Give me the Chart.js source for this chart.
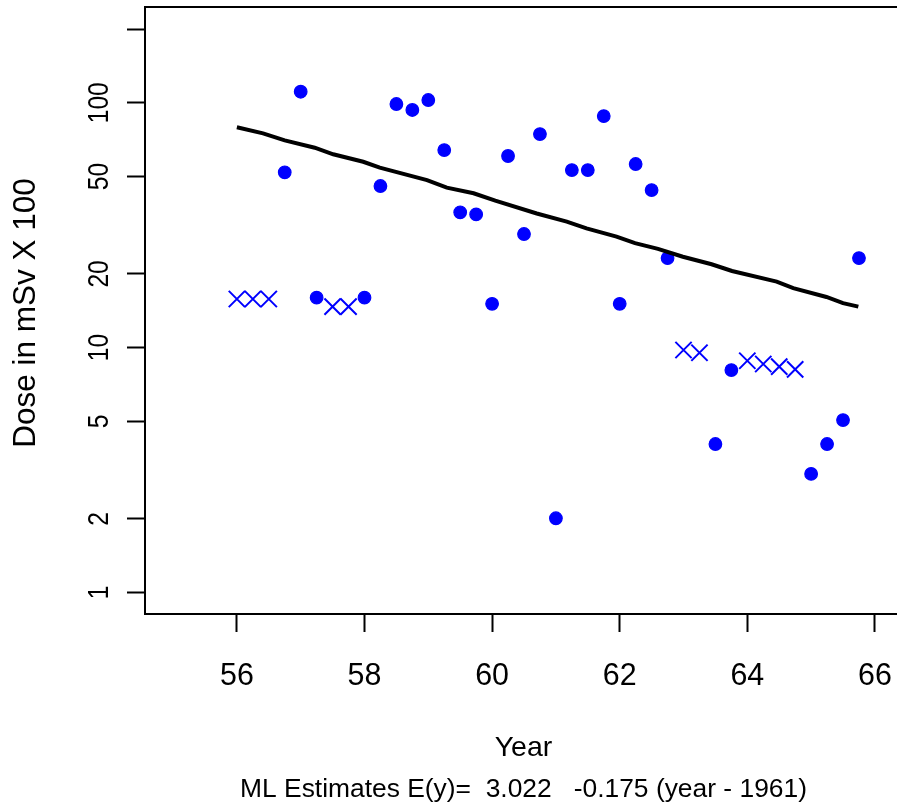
<!DOCTYPE html>
<html><head><meta charset="utf-8">
<script src="https://cdn.jsdelivr.net/npm/chart.js@4.4.0/dist/chart.umd.min.js"></script>
<style>html,body{margin:0;padding:0;background:#fff;overflow:hidden}canvas{display:block}</style>
</head><body>
<canvas id="c" width="897" height="805"></canvas>
<script>
// Observed (uncensored) doses
const dotYears = [56.75,57,57.25,58,58.25,58.5,58.75,59,59.25,59.5,59.75,60,60.25,60.5,60.75,61,61.25,61.5,61.75,62,62.25,62.5,62.75,63.5,63.75,65,65.25,65.5,65.75];
const dotDose  = [52.0,110.9,16.0,16.0,45.7,98.8,93.4,102.6,64.1,35.7,35.0,15.1,60.6,29.1,74.5,2.01,53.1,53.1,88.2,15.1,56.2,44.0,23.2,4.04,8.10,3.05,4.04,5.06,23.2];
// Censored values (crosses)
const censYears = [56,56.25,56.5,57.5,57.75,63,63.25,64,64.25,64.5,64.75];
const censDose  = [15.8,15.8,15.8,14.7,14.7,9.78,9.53,8.84,8.57,8.36,8.15];
// Fitted ML estimate line
const lineYears = [56.0,56.41,56.75,57.22,57.51,57.98,58.24,58.98,59.29,59.71,60.05,60.70,61.17,61.48,61.95,62.24,62.6,62.99,63.44,63.76,64.46,64.72,65.24,65.5,65.74];
const lineDose  = [79.4,75.0,70.2,65.5,61.6,57.4,54.3,48.3,45.0,42.7,39.8,35.3,32.7,30.7,28.4,26.7,25.3,23.5,21.9,20.55,18.6,17.5,16.1,15.2,14.7];
// Axes
const xTicks = [56,58,60,62,64,66];
const yTicks = [1,2,5,10,20,50,100,200];
const yTickLabels = ['1','2','5','10','20','50','100',''];
const xTitle = 'Year';
const yTitle = 'Dose in mSv X 100';
const subTitle = 'ML Estimates E(y)=  3.022   -0.175 (year - 1961)';

const FONT = '"Liberation Sans", Arial, Helvetica, sans-serif';

const textPlugin = {
  id: 'rtexts',
  afterDraw(chart) {
    const {ctx, chartArea, scales} = chart;
    const xs = scales.x, ys = scales.y;
    ctx.save();
    // top border of the box
    ctx.strokeStyle = '#000';
    ctx.lineWidth = 2;
    ctx.beginPath();
    ctx.moveTo(chartArea.left - 1, chartArea.top);
    ctx.lineTo(chartArea.right, chartArea.top);
    ctx.stroke();

    ctx.fillStyle = '#000';
    ctx.textBaseline = 'alphabetic';
    ctx.textAlign = 'center';
    // x tick labels
    ctx.font = '32px ' + FONT;
    xs.ticks.forEach((t, i) => {
      const px = xs.getPixelForValue(t.value);
      ctx.save();
      ctx.translate(px, chartArea.bottom + 71);
      ctx.scale(0.95, 1);
      ctx.fillText(String(xTicks[i]), 0, 0);
      ctx.restore();
    });
    // y tick labels (rotated)
    ctx.font = '30px ' + FONT;
    ys.ticks.forEach((t, i) => {
      const lbl = yTickLabels[i];
      if (!lbl) return;
      const py = ys.getPixelForValue(t.value);
      ctx.save();
      ctx.translate(chartArea.left - 37, py);
      ctx.rotate(-Math.PI / 2);
      ctx.scale(0.82, 1);
      ctx.fillText(lbl, 0, 0);
      ctx.restore();
    });
    // y title
    ctx.font = '31.5px ' + FONT;
    ctx.save();
    ctx.translate(35, (chartArea.top + chartArea.bottom) / 2 + 2.5);
    ctx.rotate(-Math.PI / 2);
    ctx.fillText(yTitle, 0, 0);
    ctx.restore();
    // x title
    ctx.font = '28.5px ' + FONT;
    ctx.fillText(xTitle, 523.5, 756);
    // subtitle
    ctx.font = '26.4px ' + FONT;
    ctx.fillText(subTitle, 523.5, 797);
    ctx.restore();
  }
};

new Chart(document.getElementById('c'), {
  type: 'scatter',
  data: {
    datasets: [
      {
        label: 'ML estimate',
        data: lineYears.map((x, i) => ({x: x, y: lineDose[i]})),
        showLine: true,
        borderColor: '#000',
        backgroundColor: '#000',
        borderWidth: 4,
        pointRadius: 0,
        tension: 0
      },
      {
        label: 'Observed',
        data: dotYears.map((x, i) => ({x: x, y: dotDose[i]})),
        pointStyle: 'circle',
        pointRadius: 6.3,
        borderWidth: 1.2,
        backgroundColor: '#0000ff',
        borderColor: '#0000ff'
      },
      {
        label: 'Censored',
        data: censYears.map((x, i) => ({x: x, y: censDose[i]})),
        pointStyle: 'crossRot',
        pointRadius: 11.5,
        borderWidth: 2,
        backgroundColor: '#0000ff',
        borderColor: '#0000ff'
      }
    ]
  },
  options: {
    responsive: false,
    animation: false,
    devicePixelRatio: 1,
    layout: {autoPadding: false, padding: {top: 7, left: 0, right: 0, bottom: 0}},
    plugins: {legend: {display: false}, tooltip: {enabled: false}},
    scales: {
      x: {
        type: 'linear',
        position: 'bottom',
        min: 54.56,
        max: 66.346,
        bounds: 'data',
        afterBuildTicks: s => { s.ticks = xTicks.map(v => ({value: v})); },
        afterFit: s => { s.height = 191; },
        ticks: {display: false},
        grid: {drawOnChartArea: false, drawTicks: true, tickLength: 18, tickWidth: 2, tickColor: '#000'},
        border: {display: true, color: '#000', width: 2},
        title: {display: false}
      },
      y: {
        type: 'logarithmic',
        position: 'left',
        min: 0.817,
        max: 246,
        bounds: 'data',
        afterBuildTicks: s => { s.ticks = yTicks.map(v => ({value: v})); },
        afterFit: s => { s.width = 145; },
        ticks: {display: false},
        grid: {drawOnChartArea: false, drawTicks: true, tickLength: 18, tickWidth: 2, tickColor: '#000'},
        border: {display: true, color: '#000', width: 2},
        title: {display: false}
      }
    }
  },
  plugins: [textPlugin]
});
</script>
</body></html>
